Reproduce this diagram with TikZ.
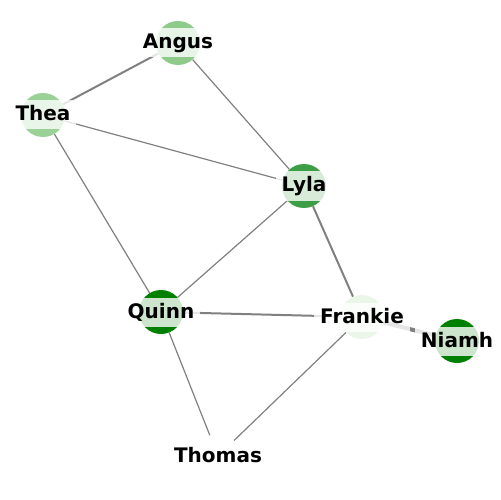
\documentclass[tikz,border=0pt]{standalone}
\usepackage{fontspec}
\setmainfont{DejaVu Sans}
\usetikzlibrary{backgrounds}
\definecolor{edgegray}{HTML}{808080}
\definecolor{anguscol}{HTML}{8ECA8A}
\definecolor{theacol}{HTML}{9AD196}
\definecolor{lylacol}{HTML}{3D9F45}
\definecolor{quinncol}{HTML}{008000}
\definecolor{frankiecol}{HTML}{EAF6E7}
\definecolor{niamhcol}{HTML}{008000}
\definecolor{thomascol}{HTML}{FFFFFF}
\tikzset{
  person/.style={circle, minimum size=44bp, inner sep=0pt, fill=#1},
  namebox/.style={fill=white, fill opacity=0.8, text opacity=1,
    inner xsep=6bp, inner ysep=4.5bp, text height=16bp, text depth=4bp,
    font=\bfseries\fontsize{20bp}{24bp}\selectfont},
  link/.style={draw=edgegray, line width=1.2bp},
  tie/.style={draw=edgegray, line width=2bp},
  bond/.style={draw=edgegray, line width=4bp}
}
\begin{document}
\begin{tikzpicture}[x=1bp, y=-1bp]
      \useasboundingbox (0,0) rectangle (500,500);
      \node[person=anguscol, label={[namebox]center:Angus}] (angus) at (178,43) {};
      \node[person=theacol, label={[namebox]center:Thea}] (thea) at (43,115) {};
      \node[person=lylacol, label={[namebox]center:Lyla}] (lyla) at (304,186) {};
      \node[person=quinncol, label={[namebox]center:Quinn}] (quinn) at (161,312) {};
      \node[person=frankiecol, label={[namebox]center:Frankie}] (frankie) at (362,317) {};
      \node[person=niamhcol, label={[namebox]center:Niamh}] (niamh) at (457,341) {};
      \node[person=thomascol, label={[namebox]center:Thomas}] (thomas) at (218,456) {};
      \begin{scope}[on background layer]
        \draw[tie] (thea) to (angus);
        \draw[link] (angus) to (lyla);
        \draw[link] (thea) to (lyla);
        \draw[link] (thea) to (quinn);
        \draw[link] (lyla) to (quinn);
        \draw[tie] (lyla) to (frankie);
        \draw[tie] (quinn) to (frankie);
        \draw[link] (quinn) to (thomas);
        \draw[link] (frankie) to (thomas);
        \draw[bond] (frankie) to (niamh);
      \end{scope}
    \end{tikzpicture}
\end{document}
